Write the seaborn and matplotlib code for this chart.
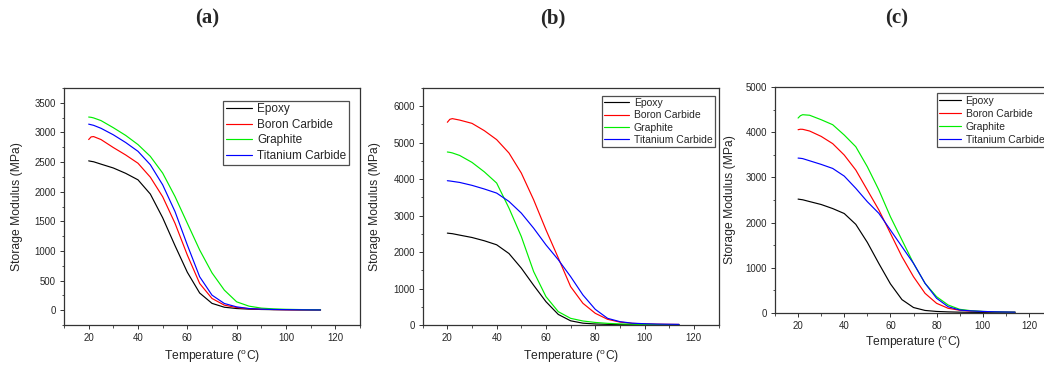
import numpy as np
import pandas as pd
import matplotlib
matplotlib.use("Agg")
import matplotlib.pyplot as plt
from matplotlib.ticker import MultipleLocator
import seaborn as sns

# ---------------- data ----------------
temperature = [20, 21, 22, 25, 30, 35, 40, 45, 50, 55, 60, 65, 70, 75, 80, 85, 90, 95, 100, 105, 110, 114]

epoxy = [2520, 2512, 2505, 2465, 2400, 2310, 2200, 1960, 1560, 1090, 640, 290, 115, 50, 28, 18, 12, 9, 7, 5, 4, 3]

# panel (a)
a_boron = [2880, 2925, 2930, 2880, 2745, 2620, 2480, 2245, 1915, 1467, 930, 451, 198, 85, 45, 25, 16, 11, 8, 6, 5, 4]
a_graphite = [3260, 3255, 3245, 3200, 3080, 2950, 2795, 2596, 2314, 1919, 1467, 1016, 630, 339, 141, 68, 35, 22, 15, 11, 8, 6]
a_titanium = [3140, 3130, 3120, 3070, 2960, 2830, 2681, 2455, 2116, 1665, 1100, 564, 254, 113, 56, 28, 17, 12, 9, 7, 5, 4]

# panel (b)
b_boron = [5560, 5640, 5660, 5620, 5530, 5330, 5084, 4717, 4168, 3435, 2611, 1840, 1053, 595, 321, 156, 80, 45, 30, 22, 18, 15]
b_graphite = [4745, 4735, 4720, 4650, 4460, 4200, 3893, 3206, 2427, 1466, 779, 366, 183, 110, 70, 45, 30, 22, 17, 13, 10, 8]
b_titanium = [3957, 3950, 3940, 3910, 3830, 3730, 3618, 3389, 3069, 2656, 2198, 1790, 1328, 824, 430, 183, 92, 50, 35, 25, 20, 17]

# panel (c)
c_boron = [4059, 4070, 4068, 4030, 3911, 3750, 3497, 3165, 2721, 2278, 1761, 1242, 798, 430, 208, 98, 55, 35, 25, 18, 15, 12]
c_graphite = [4318, 4370, 4392, 4380, 4281, 4170, 3941, 3682, 3238, 2721, 2129, 1612, 1095, 652, 355, 171, 75, 44, 28, 20, 15, 12]
c_titanium = [3430, 3425, 3418, 3370, 3290, 3200, 3030, 2759, 2462, 2204, 1834, 1464, 1095, 652, 320, 133, 60, 40, 28, 20, 15, 12]

series_names = ["Epoxy", "Boron Carbide", "Graphite", "Titanium Carbide"]
series_colors = ["#000000", "#ff0000", "#00ee00", "#0000ff"]
panel_titles = ["(a)", "(b)", "(c)"]
x_label = "Temperature ($\\mathregular{^oC}$)"
y_label = "Storage Modulus (MPa)"

panels = [
    [epoxy, a_boron, a_graphite, a_titanium],
    [epoxy, b_boron, b_graphite, b_titanium],
    [epoxy, c_boron, c_graphite, c_titanium],
]

# ---------------- style ----------------
sns.set_style("ticks")
plt.rcParams["font.family"] = ["Liberation Sans", "DejaVu Sans"]
plt.rcParams["mathtext.fontset"] = "custom"
plt.rcParams["mathtext.rm"] = "Liberation Sans"
plt.rcParams["mathtext.it"] = "Liberation Sans:italic"

W, H = 1044, 370
fig = plt.figure(figsize=(W / 100, H / 100), dpi=100)

def fx(px):
    return px / W

def fy(py):
    return 1 - py / H

# axes boxes in pixels: left, right, top, bottom
boxes = [(64, 360, 88, 325), (422.7, 718.5, 88, 325), (775, 1052, 87.3, 312.7)]
ylims = [(-250, 3750), (0, 6500), (0, 5000)]
ymajor = [500, 1000, 1000]
yminor = [250, 500, 500]
yticks_max = [3500, 6000, 5000]
legend_boxes = [(223, 100.7), (602, 95.7), (936.7, 93.5)]
legend_fs = [8.5, 7.5, 7.5]
legend_ls = [0.3, 0.22, 0.28]
legend_hl = [2.2, 2.4, 2.1]
ylabel_x = [17, 375, 730]
xlabel_y = [357, 357, 343]
title_x = [207, 553, 897]
tick_fs = 6.9
label_fs = 8.7

for i, data in enumerate(panels):
    l, r, t, b = boxes[i]
    ax = fig.add_axes([fx(l), fy(b), fx(r) - fx(l), fy(t) - fy(b)])
    for name, color, vals in zip(series_names, series_colors, data):
        df = pd.DataFrame({"T": temperature, "E": vals})
        sns.lineplot(data=df, x="T", y="E", ax=ax, color=color, lw=0.85,
                     label=name, sort=False)
    ax.set_xlim(10, 130)
    ax.set_ylim(*ylims[i])
    ax.set_xticks([20, 40, 60, 80, 100, 120])
    ax.xaxis.set_minor_locator(MultipleLocator(10))
    ax.set_yticks(np.arange(0, yticks_max[i] + 1, ymajor[i]))
    ax.yaxis.set_minor_locator(MultipleLocator(yminor[i]))
    ax.tick_params(which="major", direction="out", length=3.2, width=0.7,
                   labelsize=tick_fs, color="#333333", pad=2.5,
                   top=False, right=False)
    ax.tick_params(which="minor", direction="out", length=1.8, width=0.6,
                   color="#333333", top=False, right=False)
    for s in ax.spines.values():
        s.set_visible(True)
        s.set_linewidth(0.9)
        s.set_color("#333333")
    ax.set_xlabel(x_label, fontsize=label_fs)
    ax.set_ylabel(y_label, fontsize=label_fs)
    # place axis labels at measured pixel positions
    ax.xaxis.set_label_coords(0.5, (fy(xlabel_y[i]) - fy(b)) / (fy(t) - fy(b)))
    ax.xaxis.label.set_va("center")
    ax.yaxis.set_label_coords((fx(ylabel_x[i]) - fx(l)) / (fx(r) - fx(l)), 0.5)
    ax.yaxis.label.set_va("center")
    lx, ly = legend_boxes[i]
    leg = ax.legend(loc="upper left", bbox_to_anchor=(fx(lx), fy(ly)),
                    bbox_transform=fig.transFigure, fontsize=legend_fs[i],
                    frameon=True, fancybox=False, borderpad=0.22,
                    labelspacing=legend_ls[i], handlelength=legend_hl[i],
                    handletextpad=0.45, borderaxespad=0)
    leg.get_frame().set_edgecolor("#222222")
    leg.get_frame().set_linewidth(0.9)
    for h in leg.get_lines():
        h.set_linewidth(0.85)
    fig.text(fx(title_x[i]), fy(18), panel_titles[i], ha="center", va="center",
             fontsize=15, fontweight="bold",
             family=["Liberation Serif", "DejaVu Serif"])

fig.savefig("out.png", dpi=100)
